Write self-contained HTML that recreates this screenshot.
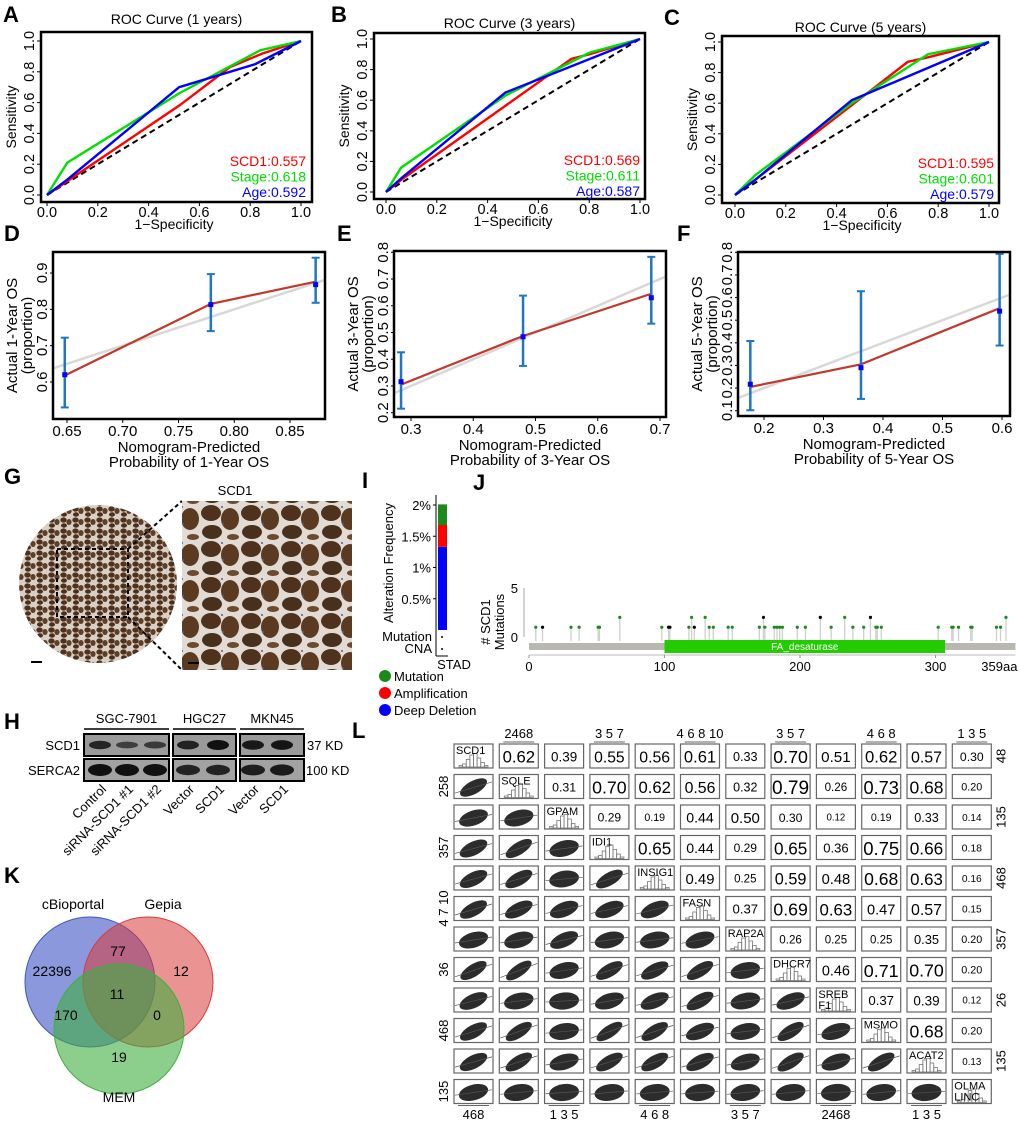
<!DOCTYPE html>
<html><head><meta charset="utf-8">
<style>
html,body{margin:0;padding:0;background:#fff;}
svg{display:block;font-family:"Liberation Sans",Arial,sans-serif;}
</style></head>
<body>
<svg id="fig" width="1020" height="1123" viewBox="0 0 1020 1123" xmlns="http://www.w3.org/2000/svg">
<defs>
<pattern id="tis" width="12" height="11" patternUnits="userSpaceOnUse">
<rect width="12" height="11" fill="#d9cfc4"/>
<ellipse cx="3.5" cy="3" rx="3.2" ry="2.6" fill="#4e321e"/>
<ellipse cx="9" cy="5" rx="2.6" ry="3" fill="#5e3e26"/>
<ellipse cx="4" cy="8.5" rx="3" ry="2.2" fill="#4a2f1c"/>
</pattern>
<pattern id="tis2" width="40" height="36" patternUnits="userSpaceOnUse">
<rect width="40" height="36" fill="#e2dbd3"/>
<ellipse cx="11" cy="9" rx="10" ry="8" fill="#4e321e"/>
<ellipse cx="30" cy="15" rx="9" ry="11" fill="#5a3b22"/>
<ellipse cx="12" cy="28" rx="10" ry="7" fill="#47301c"/>
<ellipse cx="33" cy="33" rx="6" ry="3" fill="#6b4a30"/>
<circle cx="22" cy="3" r="1" fill="#4a5fa0"/>
<circle cx="23" cy="20" r="1" fill="#4a5fa0"/>
</pattern>
<clipPath id="clipD"><rect x="53" y="252" width="272" height="167"/></clipPath>
<clipPath id="clipE"><rect x="394" y="251" width="272" height="166"/></clipPath>
<clipPath id="clipF"><rect x="738" y="252" width="272" height="164"/></clipPath>
</defs>

<g font-weight="bold" font-size="22" fill="#000">
<text x="3" y="22">A</text>
<text x="331" y="22">B</text>
<text x="664" y="25">C</text>
<text x="4" y="241">D</text>
<text x="337" y="241">E</text>
<text x="677" y="241">F</text>
<text x="4" y="484">G</text>
<text x="362" y="488">I</text>
<text x="473" y="490">J</text>
<text x="4" y="729">H</text>
<text x="4" y="883">K</text>
<text x="352" y="738">L</text>
</g>

<g id="rocs"></g>
<g id="cals"></g>

<g>
<text x="235" y="495" font-size="13" text-anchor="middle">SCD1</text>
<circle cx="98" cy="584" r="79" fill="url(#tis)"/>
<rect x="57" y="549" width="71" height="68" fill="none" stroke="#000" stroke-width="2" stroke-dasharray="4,3"/>
<line x1="128" y1="549" x2="182" y2="501" stroke="#000" stroke-width="2" stroke-dasharray="4,3"/>
<line x1="128" y1="617" x2="182" y2="670" stroke="#000" stroke-width="2" stroke-dasharray="4,3"/>
<rect x="182" y="501" width="170" height="169" fill="url(#tis2)"/>
<line x1="31" y1="662" x2="42" y2="662" stroke="#000" stroke-width="2"/>
<line x1="188" y1="663" x2="199" y2="663" stroke="#000" stroke-width="2"/>
</g>

<g id="panelI"></g>
<g id="panelJ"></g>
<g id="panelH"></g>
<g id="panelK"></g>
<g id="panelL"></g>
</svg>

<script>
// ---------- DATA ----------
const rocA_red_x=[0,0.08,0.52,0.72,0.85,1], rocA_red_y=[0,0.09,0.58,0.83,0.92,1];
const rocA_grn_x=[0,0.08,0.52,0.84,1], rocA_grn_y=[0,0.21,0.66,0.94,1];
const rocA_blu_x=[0,0.08,0.52,0.82,1], rocA_blu_y=[0,0.10,0.70,0.85,1];
const rocB_red_x=[0,0.06,0.73,0.80,1], rocB_red_y=[0,0.08,0.87,0.90,1];
const rocB_grn_x=[0,0.06,0.47,0.80,1], rocB_grn_y=[0,0.16,0.63,0.91,1];
const rocB_blu_x=[0,0.06,0.47,1], rocB_blu_y=[0,0.09,0.65,1];
const rocC_red_x=[0,0.08,0.68,0.76,1], rocC_red_y=[0,0.10,0.87,0.90,1];
const rocC_grn_x=[0,0.08,0.46,0.76,1], rocC_grn_y=[0,0.13,0.60,0.92,1];
const rocC_blu_x=[0,0.08,0.46,1], rocC_blu_y=[0,0.10,0.62,1];
const rocA_auc=["SCD1:0.557","Stage:0.618","Age:0.592"];
const rocB_auc=["SCD1:0.569","Stage:0.611","Age:0.587"];
const rocC_auc=["SCD1:0.595","Stage:0.601","Age:0.579"];
const rocTicks=[0,0.2,0.4,0.6,0.8,1.0];

const calD_pred=[0.648,0.779,0.873], calD_obs=[0.620,0.813,0.868], calD_lo=[0.530,0.740,0.818], calD_hi=[0.722,0.897,0.942], calD_fit=[0.618,0.815,0.876];
const calE_pred=[0.284,0.480,0.686], calE_obs=[0.316,0.484,0.630], calE_lo=[0.215,0.375,0.533], calE_hi=[0.426,0.638,0.783], calE_fit=[0.305,0.487,0.645];
const calF_pred=[0.177,0.363,0.596], calF_obs=[0.217,0.290,0.540], calF_lo=[0.102,0.152,0.388], calF_hi=[0.408,0.628,0.793], calF_fit=[0.205,0.305,0.553];
const calD_xt=[0.65,0.70,0.75,0.80,0.85], calD_yt=[0.6,0.7,0.8,0.9];
const calE_xt=[0.3,0.4,0.5,0.6,0.7], calE_yt=[0.2,0.3,0.4,0.5,0.6,0.7,0.8];
const calF_xt=[0.2,0.3,0.4,0.5,0.6], calF_yt=[0.1,0.2,0.3,0.4,0.5,0.6,0.7,0.8];

const altCategories=["Deep Deletion","Amplification","Mutation"];
const altValues=[1.33,0.35,0.33];
const altTicks=[0.5,1,1.5,2];

const mutPos=[5,10,31,37,51,52,67,98,103,104,118,120,122,130,133,136,147,150,170,173,174,181,183,185,187,198,204,215,223,233,239,247,252,256,257,260,302,312,313,317,326,327,345,348,352];
const mutCnt=[1,1,1,1,1,1,2,1,1,1,1,2,1,2,1,1,1,1,1,2,1,1,1,1,1,1,1,2,1,2,1,1,2,1,1,1,1,1,1,1,1,1,1,1,2];
const mutBlack=[0,1,0,0,0,0,0,0,1,1,0,0,1,0,0,0,0,0,0,1,0,0,0,0,0,0,0,1,0,0,0,0,1,0,0,0,0,0,0,0,0,0,0,0,0];
const jTicks=[0,100,200,300];

const blotLanes=["Control","siRNA-SCD1 #1","siRNA-SCD1 #2","Vector","SCD1","Vector","SCD1"];
const scd1Band=[0.75,0.45,0.5,0.8,1.0,0.9,0.95];
const sercaBand=[1.0,1.0,1.0,0.8,0.8,0.85,0.9];

const vennSets=["cBioportal","Gepia","MEM"];
const vennCounts=["22396","77","12","11","170","0","19"];

const genes=["SCD1","SQLE","GPAM","IDI1","INSIG1","FASN","RAP2A","DHCR7","SREB F1","MSMO","ACAT2","OLMA LINC"];
const corr=[
[0.62,0.39,0.55,0.56,0.61,0.33,0.70,0.51,0.62,0.57,0.30],
[0.31,0.70,0.62,0.56,0.32,0.79,0.26,0.73,0.68,0.20],
[0.29,0.19,0.44,0.50,0.30,0.12,0.19,0.33,0.14],
[0.65,0.44,0.29,0.65,0.36,0.75,0.66,0.18],
[0.49,0.25,0.59,0.48,0.68,0.63,0.16],
[0.37,0.69,0.63,0.47,0.57,0.15],
[0.26,0.25,0.25,0.35,0.20],
[0.46,0.71,0.70,0.20],
[0.37,0.39,0.12],
[0.68,0.20],
[0.13]];
const histShape=[1,2,5,8,9,6,3,1];
const topTickLabels=["2468","3 5 7","4 6 8 10","3 5 7","4 6 8","1 3 5"];
const bottomTickLabels=["468","1 3 5","4 6 8","3 5 7","2468","1 3 5"];
const leftTickLabels=["258","357","4 7 10","36","468","135"];
const rightTickLabels=["48","135","468","357","26","135"];

// ---------- HELPERS ----------
const NS="http://www.w3.org/2000/svg";
function add(parent,tag,attrs,name,inter){
  const el=document.createElementNS(NS,tag);
  for(const k in attrs) el.setAttribute(k,attrs[k]);
  
  
  parent.appendChild(el);return el;
}
function txt(parent,x,y,s,size,name,extra){
  const a=Object.assign({x:x,y:y,'font-size':size},extra||{});
  const t=add(parent,'text',a,name,false);t.textContent=s;return t;
}
function fmt1(v){return v.toFixed(1);}

// ---------- ROC ----------
const rocs=document.getElementById('rocs');
function roc(key,box,x0,x1,y0,y1,title,titleY,sets,auc,legX,legY){
  const g=add(rocs,'g',{},'roc-'+key,false);
  const sx=v=>x0+v*(x1-x0), sy=v=>y0-v*(y0-y1);
  add(g,'rect',{x:box[0],y:box[1],width:box[2]-box[0],height:box[3]-box[1],fill:'none',stroke:'#000','stroke-width':2.5},'roc-frame',false);
  txt(g,(box[0]+box[2])/2,titleY,title,14,'roc-title',{'text-anchor':'middle'});
  add(g,'line',{x1:sx(0),y1:sy(0),x2:sx(1),y2:sy(1),stroke:'#000','stroke-width':2,'stroke-dasharray':'6,4'},'diagonal-reference',false);
  const cols=['#ff0000','#00e000','#0000ff'];const nm=['scd1','stage','age'];
  sets.forEach((s,i)=>{
    const pts=s[0].map((v,j)=>sx(v)+','+sy(s[1][j])).join(' ');
    add(g,'polyline',{points:pts,fill:'none',stroke:cols[i],'stroke-width':2.4},'roc-line-'+nm[i],false);
    txt(g,legX,legY+i*15.5,auc[i],14,'legend-entry-'+nm[i],{'text-anchor':'end',fill:cols[i]});
  });
  rocTicks.forEach(v=>{
    add(g,'line',{x1:sx(v),y1:box[3],x2:sx(v),y2:box[3]+4,stroke:'#000'},'x-tick',false);
    txt(g,sx(v),box[3]+15,fmt1(v),14.5,'x-tick-label',{'text-anchor':'middle'});
    add(g,'line',{x1:box[0],y1:sy(v),x2:box[0]-4,y2:sy(v),stroke:'#000'},'y-tick',false);
    txt(g,0,0,fmt1(v),14.5,'y-tick-label',{'text-anchor':'middle',transform:`translate(${box[0]-7},${sy(v)}) rotate(-90)`});
  });
  txt(g,(sx(0)+sx(1))/2,box[3]+27,'1\u2212Specificity',14,'x-axis-title',{'text-anchor':'middle'});
  txt(g,0,0,'Sensitivity',14,'y-axis-title',{'text-anchor':'middle',transform:`translate(${box[0]-25},${(box[1]+box[3])/2}) rotate(-90)`});
}
roc('a',[41,32,312,202],47,301,195,41,'ROC Curve (1 years)',24,[[rocA_red_x,rocA_red_y],[rocA_grn_x,rocA_grn_y],[rocA_blu_x,rocA_blu_y]],rocA_auc,306,166);
roc('b',[374,33,645,199],386,640,192,39,'ROC Curve (3 years)',28,[[rocB_red_x,rocB_red_y],[rocB_grn_x,rocB_grn_y],[rocB_blu_x,rocB_blu_y]],rocB_auc,640,165);
roc('c',[722,36,999,203],735,989,195,42,'ROC Curve (5 years)',32,[[rocC_red_x,rocC_red_y],[rocC_grn_x,rocC_grn_y],[rocC_blu_x,rocC_blu_y]],rocC_auc,994,168);

// ---------- CALIBRATION ----------
const cals=document.getElementById('cals');
function cal(key,box,xa,xpx,xb,xpx2,ya,ypx,yb,ypx2,pred,obs,lo,hi,fit,xt,yt,yr,clip){
  const g=add(cals,'g',{},'calibration-'+key,false);
  const sx=v=>xpx+(v-xa)*(xpx2-xpx)/(xb-xa), sy=v=>ypx+(v-ya)*(ypx2-ypx)/(yb-ya);
  const inv=px=>xa+(px-xpx)*(xb-xa)/(xpx2-xpx);
  const gc=add(g,'g',{'clip-path':`url(#${clip})`},'plot-area',false);
  const l=inv(box[0]),r=inv(box[2]);
  add(gc,'line',{x1:sx(l),y1:sy(l),x2:sx(r),y2:sy(r),stroke:'#d8d8d8','stroke-width':2.5},'ideal-line',false);
  add(gc,'polyline',{points:pred.map((v,i)=>sx(v)+','+sy(fit[i])).join(' '),fill:'none',stroke:'#c0392b','stroke-width':2.2},'calibration-curve',false);
  pred.forEach((v,i)=>{
    add(gc,'line',{x1:sx(v),y1:sy(lo[i]),x2:sx(v),y2:sy(hi[i]),stroke:'#1f77c4','stroke-width':2.5},'error-bar',false);
    add(gc,'line',{x1:sx(v)-4,y1:sy(lo[i]),x2:sx(v)+4,y2:sy(lo[i]),stroke:'#1f77c4','stroke-width':2},'error-cap-low',false);
    add(gc,'line',{x1:sx(v)-4,y1:sy(hi[i]),x2:sx(v)+4,y2:sy(hi[i]),stroke:'#1f77c4','stroke-width':2},'error-cap-high',false);
    add(gc,'rect',{x:sx(v)-2.5,y:sy(obs[i])-2.5,width:5,height:5,fill:'#0000ff'},'observed-point',false);
  });
  add(g,'rect',{x:box[0],y:box[1],width:box[2]-box[0],height:box[3]-box[1],fill:'none',stroke:'#000','stroke-width':2.5},'plot-frame',false);
  xt.forEach(v=>{
    add(g,'line',{x1:sx(v),y1:box[3],x2:sx(v),y2:box[3]+4,stroke:'#000'},'x-tick',false);
    txt(g,sx(v),box[3]+17,v.toFixed(xt[0]>0.6?2:1),15,'x-tick-label',{'text-anchor':'middle'});
  });
  yt.forEach(v=>{
    add(g,'line',{x1:box[0],y1:sy(v),x2:box[0]-3,y2:sy(v),stroke:'#000'},'y-tick',false);
    txt(g,0,0,fmt1(v),15,'y-tick-label',{'text-anchor':'middle',transform:`translate(${box[0]-6},${sy(v)}) rotate(-90)`});
  });
  const cx=(box[0]+box[2])/2;
  txt(g,cx,box[3]+33,'Nomogram-Predicted',15,'x-axis-title-line1',{'text-anchor':'middle'});
  txt(g,cx,box[3]+48,'Probability of '+yr+'-Year OS',15,'x-axis-title-line2',{'text-anchor':'middle'});
  const cy=(box[1]+box[3])/2;
  txt(g,0,0,'Actual '+yr+'-Year OS',15,'y-axis-title-line1',{'text-anchor':'middle',transform:`translate(${box[0]-36},${cy}) rotate(-90)`});
  txt(g,0,0,'(proportion)',15,'y-axis-title-line2',{'text-anchor':'middle',transform:`translate(${box[0]-21},${cy}) rotate(-90)`});
}
cal('d',[53,252,325,419],0.65,67,0.85,290,0.6,382,0.9,273,calD_pred,calD_obs,calD_lo,calD_hi,calD_fit,calD_xt,calD_yt,1,'clipD');
cal('e',[394,251,666,417],0.3,411,0.7,660,0.2,412.7,0.8,252.3,calE_pred,calE_obs,calE_lo,calE_hi,calE_fit,calE_xt,calE_yt,3,'clipE');
cal('f',[738,252,1010,416],0.2,764,0.6,1002,0.1,410.7,0.8,252.3,calF_pred,calF_obs,calF_lo,calF_hi,calF_fit,calF_xt,calF_yt,5,'clipF');

// ---------- I ----------
(function(){
  const g=document.getElementById('panelI');
  const sy=v=>630-v*62.5;
  const cols=['#0000ff','#ff0000','#1a8a1a'];
  let base=0;
  altValues.forEach((v,i)=>{
    add(g,'rect',{x:438,y:sy(base+v),width:9,height:sy(base)-sy(base+v),fill:cols[i]},'bar-'+altCategories[i].toLowerCase().replace(' ','-'),false);
    base+=v;
  });
  add(g,'line',{x1:436,y1:495,x2:436,y2:656,stroke:'#000'},'y-axis',false);
  add(g,'line',{x1:436,y1:656,x2:448,y2:656,stroke:'#000'},'x-axis',false);
  altTicks.forEach(v=>{
    add(g,'line',{x1:433,y1:sy(v),x2:436,y2:sy(v),stroke:'#000'},'y-tick',false);
    txt(g,431,sy(v)+5,v+'%',13,'y-tick-label',{'text-anchor':'end'});
  });
  txt(g,0,0,'Alteration Frequency',13,'y-axis-title',{'text-anchor':'middle',transform:'translate(393,563) rotate(-90)'});
  txt(g,432,641,'Mutation',13,'row-label-mutation',{'text-anchor':'end'});
  txt(g,432,653,'CNA',13,'row-label-cna',{'text-anchor':'end'});
  add(g,'circle',{cx:442,cy:637,r:1},'mutation-dot',false);
  add(g,'circle',{cx:442,cy:649,r:1},'cna-dot',false);
  txt(g,454,669,'STAD',13,'x-label-stad',{'text-anchor':'middle'});
  const lc=['#1a8a1a','#ff0000','#0000ff'],ln=['Mutation','Amplification','Deep Deletion'];
  ln.forEach((s,i)=>{
    add(g,'circle',{cx:385,cy:676+i*17,r:6,fill:lc[i]},'legend-swatch',false);
    txt(g,394,681+i*17,s,13,'legend-entry',{});
  });
})();

// ---------- J ----------
(function(){
  const g=document.getElementById('panelJ');
  const sx=v=>529+v*1.355, sy=v=>637-v*9.8;
  add(g,'line',{x1:524,y1:sy(0),x2:524,y2:sy(5),stroke:'#aaa'},'y-axis',false);
  [0,5].forEach(v=>txt(g,518,sy(v)+5,String(v),13,'y-tick-label',{'text-anchor':'end'}));
  txt(g,0,0,'# SCD1',13,'y-axis-title-line1',{'text-anchor':'middle',transform:'translate(490,622) rotate(-90)'});
  txt(g,0,0,'Mutations',13,'y-axis-title-line2',{'text-anchor':'middle',transform:'translate(504,622) rotate(-90)'});
  mutPos.forEach((p,i)=>{
    add(g,'line',{x1:sx(p),y1:sy(0)+4,x2:sx(p),y2:sy(mutCnt[i]),stroke:'#cfcfcf','stroke-width':1.3},'lollipop-stem',false);
    add(g,'circle',{cx:sx(p),cy:sy(mutCnt[i]),r:1.6,fill:mutBlack[i]?'#000':'#1a8a1a'},'lollipop-head',false);
  });
  add(g,'rect',{x:sx(0),y:643,width:sx(359)-sx(0),height:7,fill:'#b8b8b0'},'protein-backbone',false);
  add(g,'rect',{x:sx(100),y:640,width:sx(307)-sx(100),height:13,fill:'#22cc00'},'domain-fa-desaturase',false);
  txt(g,(sx(100)+sx(307))/2,650,'FA_desaturase',10,'domain-label',{'text-anchor':'middle',fill:'#fff'});
  add(g,'line',{x1:sx(0),y1:655,x2:sx(359),y2:655,stroke:'#bbb'},'x-axis',false);
  jTicks.forEach(v=>{
    add(g,'line',{x1:sx(v),y1:655,x2:sx(v),y2:658,stroke:'#999'},'x-tick',false);
    txt(g,sx(v),671,String(v),13,'x-tick-label',{'text-anchor':'middle'});
  });
  txt(g,sx(359)+2,671,'359aa',13,'x-tick-label-end',{'text-anchor':'end'});
})();

// ---------- H ----------
(function(){
  const g=document.getElementById('panelH');
  const groups=[[84,169,'SGC-7901'],[173,236,'HGC27'],[240,304,'MKN45']];
  groups.forEach(gr=>{
    txt(g,(gr[0]+gr[1])/2,723,gr[2],13,'group-label',{'text-anchor':'middle'});
    add(g,'line',{x1:gr[0],y1:729,x2:gr[1],y2:729,stroke:'#000','stroke-width':1.5},'group-underline',false);
    add(g,'rect',{x:gr[0],y:734,width:gr[1]-gr[0],height:22,fill:'#9a9a9a',stroke:'#000','stroke-width':2},'blot-scd1-'+gr[2],false);
    add(g,'rect',{x:gr[0],y:759,width:gr[1]-gr[0],height:22,fill:'#a2a2a2',stroke:'#000','stroke-width':2},'blot-serca2-'+gr[2],false);
  });
  const lx=[100,127,155,188,218,253,282];
  blotLanes.forEach((s,i)=>{
    add(g,'ellipse',{cx:lx[i],cy:745,rx:11,ry:2+scd1Band[i]*3,fill:'#111','fill-opacity':0.4+scd1Band[i]*0.6},'band-scd1',false);
    add(g,'ellipse',{cx:lx[i],cy:770,rx:12,ry:2+sercaBand[i]*4,fill:'#111','fill-opacity':0.4+sercaBand[i]*0.6},'band-serca2',false);
    txt(g,0,0,s,13,'lane-label',{'text-anchor':'end',transform:`translate(${lx[i]+7},${790}) rotate(-45)`});
  });
  txt(g,80,750,'SCD1',13,'row-label-scd1',{'text-anchor':'end'});
  txt(g,80,775,'SERCA2',13,'row-label-serca2',{'text-anchor':'end'});
  txt(g,307,750,'37 KD',13,'mw-37kd',{});
  txt(g,306,775,'100 KD',13,'mw-100kd',{});
})();

// ---------- K ----------
(function(){
  const g=document.getElementById('panelK');
  add(g,'circle',{cx:90,cy:982,r:65,fill:'#3d55c4','fill-opacity':0.6,stroke:'#3d55c4'},'venn-cbioportal',false);
  add(g,'circle',{cx:148,cy:982,r:65,fill:'#d93a3a','fill-opacity':0.55,stroke:'#d93a3a'},'venn-gepia',false);
  add(g,'circle',{cx:119,cy:1029,r:65,fill:'#3fae3f','fill-opacity':0.6,stroke:'#3fae3f'},'venn-mem',false);
  txt(g,73,909,vennSets[0],14,'set-label-cbioportal',{'text-anchor':'middle'});
  txt(g,163,909,vennSets[1],14,'set-label-gepia',{'text-anchor':'middle'});
  txt(g,119,1102,vennSets[2],14,'set-label-mem',{'text-anchor':'middle'});
  const pos=[[52,976],[118,956],[181,976],[117,999],[66,1020],[157,1020],[119,1062]];
  vennCounts.forEach((c,i)=>txt(g,pos[i][0],pos[i][1],c,14,'venn-count',{'text-anchor':'middle'}));
})();

// ---------- L ----------
(function(){
  const g=document.getElementById('panelL');
  const n=genes.length, X=i=>454+i*45.3, Y=j=>744+j*30.5, W=39, H=24;
  for(let r=0;r<n;r++){for(let c=0;c<n;c++){
    const x=X(c),y=Y(r);
    add(g,'rect',{x:x,y:y,width:W,height:H,fill:'#fff',stroke:'#666','stroke-width':1.2},'cell',false);
    if(r===c){
      const bw=(W-10)/histShape.length;
      histShape.forEach((h,k)=>add(g,'rect',{x:x+5+k*bw,y:y+H-1-h*1.5,width:bw,height:h*1.5,fill:'none',stroke:'#777','stroke-width':0.8},'hist-bar',false));
      const parts=genes[r].split(' ');
      parts.forEach((p,k)=>txt(g,x+2,y+10+k*11,p,11,'gene-label',{}));
    } else if(c>r){
      const v=corr[r][c-r-1];
      txt(g,x+W/2,y+H/2+v*6+3,v.toFixed(2),8+v*14,'corr-value',{'text-anchor':'middle'});
    } else {
      const v=corr[c][r-c-1];
      const ang=-Math.atan(v*0.9)*57;
      add(g,'ellipse',{cx:x+W/2,cy:y+H/2+1,rx:15,ry:5+(1-v)*4,fill:'#151515','fill-opacity':0.9,transform:`rotate(${ang} ${x+W/2} ${y+H/2+1})`},'scatter-cloud',false);
      add(g,'line',{x1:x+1,y1:y+H/2+1+v*9,x2:x+W-1,y2:y+H/2+1-v*9,stroke:'#555','stroke-width':0.7},'fit-line',false);
    }
  }}
  topTickLabels.forEach((s,k)=>{const c=1+2*k;txt(g,X(c)+W/2,738,s,13,'top-tick-label',{'text-anchor':'middle'});
    add(g,'line',{x1:X(c)+4,y1:742,x2:X(c)+W-4,y2:742,stroke:'#666'},'top-axis',false);});
  bottomTickLabels.forEach((s,k)=>{const c=2*k;txt(g,X(c)+W/2,1119,s,13,'bottom-tick-label',{'text-anchor':'middle'});
    add(g,'line',{x1:X(c)+4,y1:Y(11)+H+2,x2:X(c)+W-4,y2:Y(11)+H+2,stroke:'#666'},'bottom-axis',false);});
  leftTickLabels.forEach((s,k)=>{const r=1+2*k;txt(g,0,0,s,13,'left-tick-label',{'text-anchor':'middle',transform:`translate(${X(0)-6},${Y(r)+H/2}) rotate(-90)`});});
  rightTickLabels.forEach((s,k)=>{const r=2*k;txt(g,0,0,s,13,'right-tick-label',{'text-anchor':'middle',transform:`translate(${X(11)+W+14},${Y(r)+H/2}) rotate(-90)`});});
})();
</script>
</body></html>
